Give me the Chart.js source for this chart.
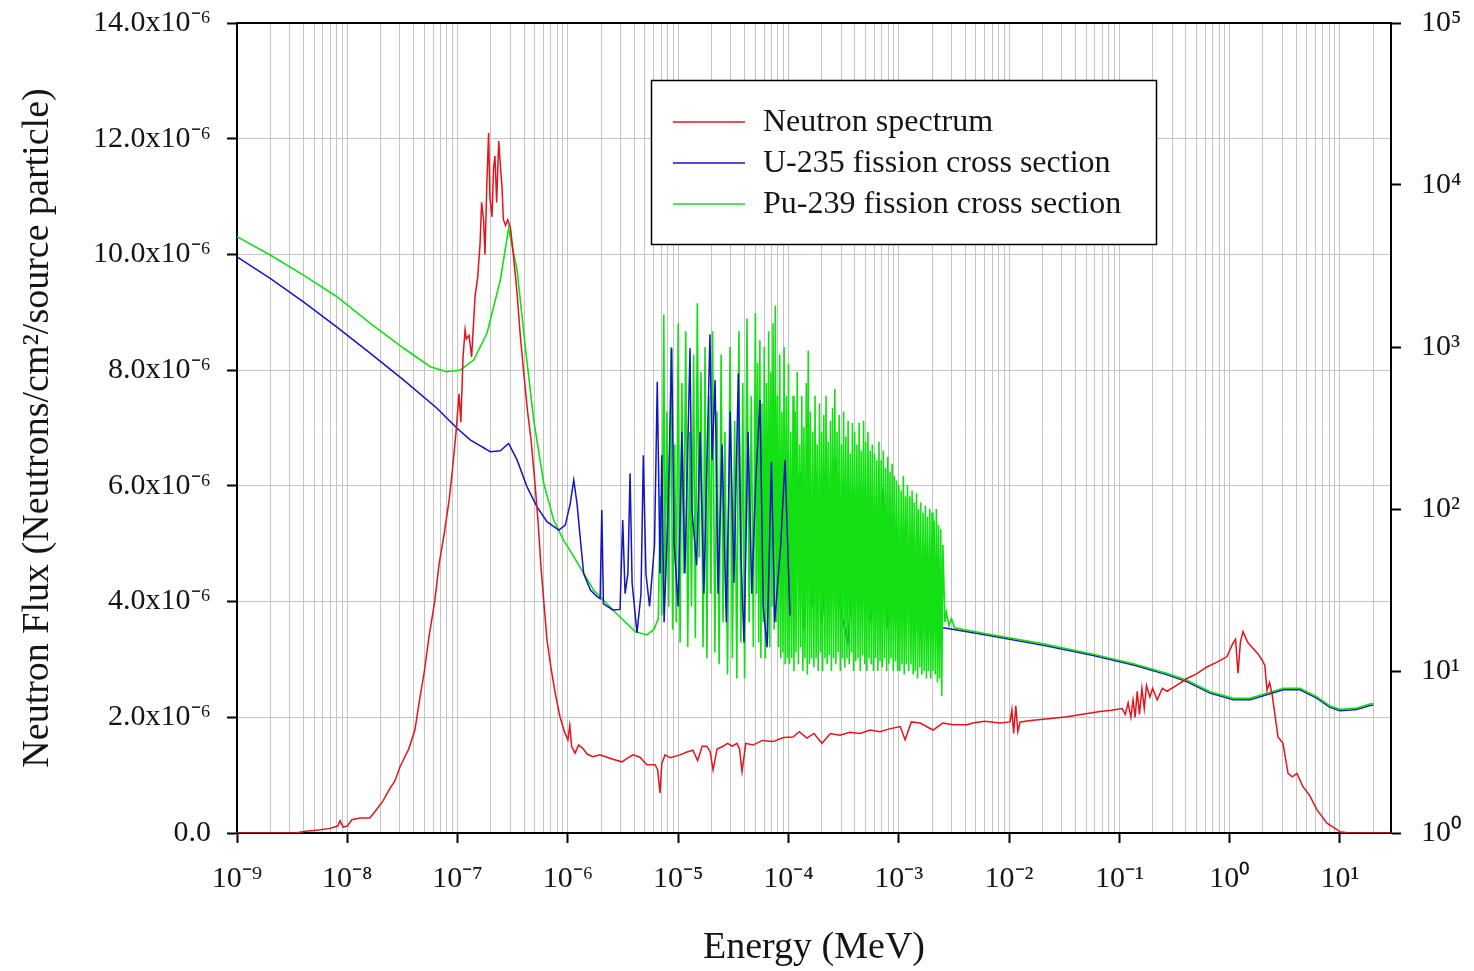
<!DOCTYPE html>
<html>
<head>
<meta charset="utf-8">
<title>Neutron spectrum and fission cross sections</title>
<script src="https://cdn.jsdelivr.net/npm/chart.js@4.4.1/dist/chart.umd.min.js"></script>
<style>
  html, body { margin: 0; padding: 0; background: #fff; }
  #wrap { width: 1474px; height: 971px; }
</style>
</head>
<body>
<div id="wrap"><canvas id="myChart" width="1474" height="971"></canvas></div>
<script>
// axis ticks
const xDecades = [1e-9, 1e-8, 1e-7, 1e-6, 1e-5, 1e-4, 1e-3, 1e-2, 1e-1, 1e0, 1e1];
const xTickLabels = ['10⁻⁹', '10⁻⁸', '10⁻⁷', '10⁻⁶', '10⁻⁵', '10⁻⁴', '10⁻³', '10⁻²', '10⁻¹', '10⁰', '10¹'];
const fluxTicks = [0, 2, 4, 6, 8, 10, 12, 14];
const fluxTickLabels = ['0.0', '2.0x10⁻⁶', '4.0x10⁻⁶', '6.0x10⁻⁶', '8.0x10⁻⁶', '10.0x10⁻⁶', '12.0x10⁻⁶', '14.0x10⁻⁶'];
const sigmaTicks = [1, 10, 100, 1000, 10000, 100000];
const sigmaTickLabels = ['10⁰', '10¹', '10²', '10³', '10⁴', '10⁵'];

// neutron spectrum (energy in MeV, flux in 1e-6 n/cm2/source particle)
const nEnergy = [1e-9, 2e-9, 3.4e-9, 4.2e-9, 5.5e-9, 7e-9, 8.2e-9, 8.6e-9, 9.2e-9, 1.0e-8,
  1.1e-8, 1.3e-8, 1.6e-8, 1.8e-8, 2.1e-8, 2.4e-8, 2.7e-8, 3.0e-8, 3.6e-8, 4.1e-8,
  4.5e-8, 5.0e-8, 5.5e-8, 6.2e-8, 6.8e-8, 7.6e-8, 8.4e-8, 9.0e-8, 9.7e-8, 1.03e-7,
  1.07e-7, 1.12e-7, 1.17e-7, 1.2e-7, 1.27e-7, 1.34e-7, 1.44e-7, 1.52e-7, 1.6e-7, 1.65e-7,
  1.72e-7, 1.77e-7, 1.84e-7, 1.91e-7, 1.96e-7, 2.05e-7, 2.12e-7, 2.18e-7, 2.26e-7, 2.36e-7,
  2.45e-7, 2.53e-7, 2.6e-7, 2.72e-7, 2.85e-7, 3.02e-7, 3.2e-7, 3.46e-7, 3.7e-7, 4.0e-7,
  4.3e-7, 4.63e-7, 5.0e-7, 5.36e-7, 5.7e-7, 6.07e-7, 6.46e-7, 7.03e-7, 7.7e-7, 8.48e-7,
  9.3e-7, 1.0e-6, 1.04e-6, 1.08e-6, 1.16e-6, 1.25e-6, 1.37e-6, 1.5e-6, 1.69e-6, 1.95e-6,
  2.26e-6, 2.6e-6, 3.09e-6, 3.5e-6, 3.89e-6, 4.5e-6, 5.2e-6, 6.16e-6, 6.5e-6, 6.84e-6,
  7.1e-6, 7.6e-6, 8.5e-6, 1.04e-5, 1.2e-5, 1.36e-5, 1.5e-5, 1.65e-5, 1.82e-5, 1.95e-5,
  2.07e-5, 2.25e-5, 2.5e-5, 2.8e-5, 3.1e-5, 3.41e-5, 3.6e-5, 3.79e-5, 4.1e-5, 4.77e-5,
  5.8e-5, 7.24e-5, 9.0e-5, 1.1e-4, 1.25e-4, 1.47e-4, 1.7e-4, 2.01e-4, 2.4e-4, 2.93e-4,
  3.6e-4, 4.45e-4, 5.5e-4, 6.76e-4, 8.2e-4, 1.03e-3, 1.14e-3, 1.3e-3, 1.56e-3, 2.04e-3,
  2.5e-3, 3.1e-3, 4.15e-3, 4.7e-3, 6.0e-3, 8.27e-3,
  1.02e-2, 1.06e-2, 1.1e-2, 1.15e-2, 1.2e-2, 1.26e-2, 1.65e-2, 2.4e-2, 3.35e-2, 4.5e-2,
  6.67e-2, 8.5e-2, 1.06e-1, 1.13e-1, 1.2e-1, 1.27e-1, 1.33e-1, 1.39e-1, 1.45e-1, 1.52e-1,
  1.6e-1, 1.68e-1, 1.76e-1, 1.89e-1, 2.0e-1, 2.2e-1, 2.45e-1, 2.7e-1,
  3.3e-1, 4.1e-1, 5.0e-1, 6.22e-1, 7.6e-1, 9.45e-1,
  1.07, 1.13, 1.19, 1.25, 1.32, 1.45, 1.63, 1.8, 1.96, 2.08,
  2.18, 2.3, 2.42, 2.74, 3.04, 3.38, 3.7, 4.07, 4.62, 5.3,
  6.19, 7.62, 9.4, 10, 12, 20, 29];
const nFlux = [0, 0, 0, 0.03, 0.05, 0.08, 0.12, 0.21, 0.1, 0.12,
  0.23, 0.26, 0.26, 0.38, 0.55, 0.75, 0.9, 1.14, 1.45, 1.78,
  2.28, 2.8, 3.39, 4.0, 4.65, 5.2, 5.77, 6.3, 6.95, 7.59,
  7.1, 8.23, 8.7, 8.54, 8.6, 8.23, 9.28, 9.6, 10.2, 10.9,
  10.6, 10.0, 11.2, 12.1, 11.0, 10.65, 11.5, 11.7, 10.9, 11.96,
  11.5, 11.15, 10.6, 10.5, 10.6, 10.45, 10.0, 9.33, 8.6, 7.9,
  7.3, 6.8, 6.1, 5.39, 4.6, 3.96, 3.34, 2.85, 2.4, 2.01,
  1.75, 1.61, 1.86, 1.5, 1.38, 1.52, 1.46, 1.36, 1.32, 1.35,
  1.31, 1.27, 1.23, 1.3, 1.35, 1.31, 1.18, 1.18, 1.1, 0.69,
  1.2, 1.35, 1.3, 1.35, 1.4, 1.43, 1.25, 1.5, 1.5, 1.4,
  1.09, 1.45, 1.49, 1.55, 1.5, 1.55, 1.45, 1.06, 1.55, 1.52,
  1.6, 1.58, 1.65, 1.66, 1.75, 1.64, 1.72, 1.55, 1.72, 1.69,
  1.74, 1.72, 1.78, 1.75, 1.8, 1.84, 1.61, 1.92, 1.9, 1.78,
  1.9, 1.87, 1.87, 1.9, 1.93, 1.9,
  1.92, 2.13, 1.72, 2.2, 1.75, 1.92, 1.95, 1.98, 2.01, 2.05,
  2.1, 2.12, 2.15, 2.05, 2.25, 2.0, 2.3, 2.0, 2.45, 2.05,
  2.5, 2.15, 2.55, 2.35, 2.5, 2.3, 2.5, 2.45,
  2.55, 2.67, 2.75, 2.87, 2.95, 3.05,
  3.28, 3.35, 2.76, 3.3, 3.48, 3.3, 3.19, 3.1, 2.99, 2.9,
  2.47, 2.6, 2.41, 1.66, 1.55, 1.03, 0.97, 1.03, 0.8, 0.65,
  0.4, 0.17, 0.06, 0.02, 0, 0, 0];

// U-235 fission cross section (barns)
const uEnergy = [1e-9, 2e-9, 4e-9, 8e-9, 1.62e-8, 3.25e-8, 6.5e-8, 9.9e-8, 1.3e-7, 1.98e-7,
  2.44e-7, 2.9e-7, 3.46e-7, 4.26e-7, 5.25e-7, 6.46e-7, 8.26e-7, 9.47e-7, 1.05e-6, 1.13e-6,
  1.21e-6, 1.3e-6, 1.39e-6, 1.6e-6, 1.84e-6, 1.96e-6, 2.03e-6, 2.1e-6, 2.56e-6, 2.97e-6,
  3.14e-6, 3.3e-6, 3.5e-6, 3.66e-6, 3.82e-6, 4.23e-6, 4.6e-6, 4.83e-6, 5.1e-6, 5.5e-6,
  6.1e-6, 6.46e-6, 6.85e-6, 7.1e-6, 7.45e-6, 8.1e-6, 8.73e-6, 9.2e-6, 1.0e-5, 1.08e-5,
  1.15e-5, 1.28e-5, 1.33e-5, 1.47e-5, 1.58e-5, 1.71e-5, 1.94e-5, 2.03e-5, 2.16e-5, 2.3e-5,
  2.5e-5, 2.73e-5, 2.96e-5, 3.2e-5, 3.51e-5, 3.71e-5, 3.95e-5, 4.3e-5, 4.65e-5, 5.05e-5,
  5.52e-5, 5.9e-5, 6.4e-5, 7.0e-5, 7.5e-5, 8.5e-5, 9.3e-5, 1.03e-4, 1.15e-4, 1.27e-4,
  1.38e-4, 1.57e-4, 1.67e-4, 1.8e-4, 2.01e-4, 2.28e-4, 2.63e-4, 2.93e-4, 3.45e-4, 3.99e-4,
  4.74e-4, 5.47e-4, 6.2e-4, 7.23e-4, 8.0e-4, 8.6e-4, 9.8e-4, 1.14e-3, 1.32e-3, 1.56e-3,
  1.73e-3, 1.99e-3, 2.18e-3, 2.41e-3, 2.62e-3, 5.84e-3, 2.04e-2, 5.8e-2, 1.34e-1, 2.68e-1,
  4.07e-1, 6.63e-1, 1.08, 1.53, 2.16, 3.06, 4.34, 6.15, 8.11, 10,
  14.2, 18.7, 20];
const uSigma = [3600, 2650, 1900, 1330, 914, 625, 419, 315, 267, 226,
  229, 254, 201, 137, 103, 83.5, 74, 79.6, 108, 151,
  108, 64, 40, 31.6, 28.8, 28, 98.6, 26, 23.8, 24,
  85.5, 30, 40, 166, 35, 17.2, 30, 215, 40, 25,
  60, 611, 40, 215, 20, 100, 982, 60, 25, 300,
  40, 982, 100, 45, 300, 30, 1200, 200, 626, 30,
  250, 20, 400, 35, 687, 50, 15, 300, 30, 150,
  471, 25, 14, 196, 20, 60, 200, 22, 80, 170,
  18, 123, 25, 158, 20, 60, 206, 25, 15, 60,
  85.5, 20, 40, 134, 18, 40, 70, 20, 60, 16,
  45, 40, 20, 18.5, 18.4, 16.8, 14.4, 12.45, 10.9, 9.5,
  8.6, 7.3, 6.65, 6.65, 7.13, 7.66, 7.66, 6.8, 5.96, 5.68,
  5.78, 6.13, 6.17];

// Pu-239 fission cross section (barns)
const pEnergy = [1e-9, 2e-9, 4e-9, 8e-9, 1.62e-8, 3.25e-8, 5.65e-8, 8.0e-8, 1.06e-7, 1.4e-7,
  1.85e-7, 2.44e-7, 2.9e-7, 3.46e-7, 4.11e-7, 4.9e-7, 6.04e-7, 7.43e-7, 9.16e-7, 1.13e-6,
  1.39e-6, 1.71e-6, 2.56e-6, 4.06e-6, 5.2e-6, 6.0e-6, 6.6e-6, 6.9e-6, 7.1e-6, 7.4e-6,
  7.6e-6, 7.9e-6, 8.2e-6, 8.6e-6, 8.9e-6, 9.3e-6, 9.6e-6, 1.0e-5, 1.04e-5, 1.08e-5,
  1.12e-5, 1.17e-5, 1.22e-5, 1.27e-5, 1.32e-5, 1.38e-5, 1.43e-5, 1.49e-5, 1.55e-5, 1.61e-5,
  1.68e-5, 1.75e-5, 1.82e-5, 1.9e-5, 1.98e-5, 2.05e-5, 2.15e-5, 2.25e-5, 2.35e-5, 2.45e-5,
  2.55e-5, 2.65e-5, 2.8e-5, 2.95e-5, 3.1e-5, 3.25e-5, 3.4e-5, 3.55e-5, 3.7e-5, 3.85e-5,
  4.0e-5, 4.2e-5, 4.4e-5, 4.6e-5, 4.8e-5,
  5.01e-5, 5.13e-5, 5.25e-5, 5.37e-5, 5.5e-5, 5.62e-5, 5.75e-5, 5.89e-5, 6.03e-5, 6.17e-5,
  6.31e-5, 6.46e-5, 6.61e-5, 6.76e-5, 6.92e-5, 7.08e-5, 7.24e-5, 7.41e-5, 7.59e-5, 7.76e-5,
  7.94e-5, 8.13e-5, 8.32e-5, 8.51e-5, 8.71e-5, 8.91e-5, 9.12e-5, 9.33e-5, 9.55e-5, 9.77e-5,
  1.00e-4, 1.02e-4, 1.05e-4, 1.07e-4, 1.10e-4, 1.12e-4, 1.15e-4, 1.17e-4, 1.20e-4, 1.23e-4,
  1.26e-4, 1.29e-4, 1.32e-4, 1.35e-4, 1.38e-4, 1.41e-4, 1.45e-4, 1.48e-4, 1.51e-4, 1.55e-4,
  1.58e-4, 1.62e-4, 1.66e-4, 1.70e-4, 1.74e-4, 1.78e-4, 1.82e-4, 1.86e-4, 1.91e-4, 1.95e-4,
  2.00e-4, 2.04e-4, 2.09e-4, 2.14e-4, 2.19e-4, 2.24e-4, 2.29e-4, 2.34e-4, 2.40e-4, 2.45e-4,
  2.51e-4, 2.57e-4, 2.63e-4, 2.69e-4, 2.75e-4, 2.82e-4, 2.88e-4, 2.95e-4, 3.02e-4, 3.09e-4,
  3.16e-4, 3.24e-4, 3.31e-4, 3.39e-4, 3.47e-4, 3.55e-4, 3.63e-4, 3.72e-4, 3.80e-4, 3.89e-4,
  3.98e-4, 4.07e-4, 4.17e-4, 4.27e-4, 4.37e-4, 4.47e-4, 4.57e-4, 4.68e-4, 4.79e-4, 4.90e-4,
  5.01e-4, 5.13e-4, 5.25e-4, 5.37e-4, 5.50e-4, 5.62e-4, 5.75e-4, 5.89e-4, 6.03e-4, 6.17e-4,
  6.31e-4, 6.46e-4, 6.61e-4, 6.76e-4, 6.92e-4, 7.08e-4, 7.24e-4, 7.41e-4, 7.59e-4, 7.76e-4,
  7.94e-4, 8.13e-4, 8.32e-4, 8.51e-4, 8.71e-4, 8.91e-4, 9.12e-4, 9.33e-4, 9.55e-4, 9.77e-4,
  1.00e-3, 1.02e-3, 1.05e-3, 1.07e-3, 1.10e-3, 1.12e-3, 1.15e-3, 1.17e-3, 1.20e-3, 1.23e-3,
  1.26e-3, 1.29e-3, 1.32e-3, 1.35e-3, 1.38e-3, 1.41e-3, 1.45e-3, 1.48e-3, 1.51e-3, 1.55e-3,
  1.58e-3, 1.62e-3, 1.66e-3, 1.70e-3, 1.74e-3, 1.78e-3, 1.82e-3, 1.86e-3, 1.91e-3, 1.95e-3,
  2.00e-3, 2.04e-3, 2.09e-3, 2.14e-3, 2.19e-3, 2.24e-3, 2.29e-3, 2.34e-3, 2.40e-3, 2.45e-3,
  2.51e-3, 2.62e-3, 2.7e-3, 2.85e-3, 3.0e-3, 3.2e-3,
  5.84e-3, 2.04e-2, 5.8e-2, 1.34e-1, 2.68e-1, 4.07e-1, 6.63e-1, 1.08, 1.53, 2.16,
  3.06, 4.34, 6.15, 8.11, 10, 14.2, 18.7, 20];
const pSigma = [4800, 3700, 2780, 2050, 1400, 982, 755, 704, 721, 831,
  1220, 2590, 5400, 2990, 1000, 354, 144, 85.5, 64, 50.8,
  40, 31.6, 23.8, 17.5, 16.7, 18, 21, 120, 22, 1580,
  30, 400, 25, 1000, 18, 250, 20, 1400, 15, 600,
  40, 1250, 14, 300, 25, 900, 16, 1860, 50, 700,
  14, 1000, 12, 500, 30, 1250, 13, 400, 11, 900,
  20, 300, 9.5, 1000, 12, 350, 9, 1250, 15, 600,
  9, 1500, 20, 500, 14,
  1620, 30, 800, 15, 1100, 12, 450, 20, 1000, 12,
  600, 16, 1250, 14, 700, 25, 1400, 18, 1800, 20,
  500, 14, 900, 12, 400, 13, 1000, 11, 500, 12,
  790, 11, 300, 12, 500, 10, 400, 13, 700, 11,
  250, 14, 500, 10, 320, 12, 600, 9.5, 950, 11,
  400, 12, 300, 10.5, 500, 12, 250, 10, 450, 13,
  300, 10, 380, 12, 500, 11, 260, 12.5, 350, 10,
  420, 12, 550, 11, 300, 13, 380, 10, 250, 12,
  400, 10.5, 280, 12, 350, 11, 220, 13, 340, 10,
  300, 11.5, 250, 12, 340, 10, 230, 12.5, 350, 11,
  260, 10, 300, 12, 230, 11, 250, 10, 220, 12,
  200, 10, 260, 11.5, 200, 10.5, 230, 12, 180, 10,
  210, 11, 170, 12, 190, 10, 160, 11.5, 150, 10,
  140, 10, 130, 11, 160, 9.5, 120, 11, 140, 10,
  120, 11, 130, 9.5, 110, 10, 125, 9, 100, 10.5,
  110, 9.5, 95, 10, 105, 9, 90, 10, 100, 9,
  95, 10, 85, 9.5, 100, 8.5, 80, 9, 75, 7,
  60, 20, 23, 19, 21, 18.5,
  17.1, 14.7, 12.7, 11.1, 9.7, 8.8, 7.45, 6.78, 6.78, 7.28,
  7.82, 7.82, 6.94, 6.08, 5.8, 5.9, 6.26, 6.3];

// U-235 resolved resonances show in front of Pu-239 up to here, behind it above
const uFrontLimit = 1.03e-4;

const serif = '"Liberation Serif", "Times New Roman", serif';
const textColor = '#151515';
const gridColor = '#c4c4c4';
const red = '#e3141c';
const blue = '#1414c4';
const green = '#12e012';

// minor log grid: 1..9 times each decade
const xGridValues = [];
xDecades.forEach(d => {
  for (let m = 1; m <= 9; m++) {
    if (d * m <= 29) xGridValues.push(d * m);
  }
});

function decadeIndex(v) {
  return xDecades.findIndex(d => Math.abs(v - d) / d < 1e-6);
}

function toPoints(xs, ys) {
  return xs.map((x, i) => ({ x: x, y: ys[i] }));
}

// keep the plot frame where the picture has it
function noEdgePadding(axis) {
  axis.paddingTop = 0;
  axis.paddingBottom = 0;
  axis.paddingLeft = 0;
  axis.paddingRight = 0;
}

const uPoints = toPoints(uEnergy, uSigma);

const boxLegend = {
  id: 'boxLegend',
  afterDraw(chart) {
    const ctx = chart.ctx;
    const area = chart.chartArea;
    ctx.save();
    // top frame line
    ctx.strokeStyle = '#000';
    ctx.lineWidth = 2;
    ctx.beginPath();
    ctx.moveTo(area.left, area.top);
    ctx.lineTo(area.right, area.top);
    ctx.stroke();
    // legend box
    ctx.fillStyle = '#fff';
    ctx.fillRect(651, 80, 505, 164);
    ctx.lineWidth = 1.5;
    ctx.strokeRect(651.5, 80.5, 505, 164);
    ctx.font = '32px ' + serif;
    ctx.textBaseline = 'middle';
    chart.data.datasets.filter(ds => ds.label).forEach((ds, i) => {
      const y = 122 + i * 41;
      ctx.strokeStyle = ds.borderColor;
      ctx.lineWidth = 1.5;
      ctx.beginPath();
      ctx.moveTo(673, y);
      ctx.lineTo(745, y);
      ctx.stroke();
      ctx.fillStyle = textColor;
      ctx.fillText(ds.label, 763, y + 1);
    });
    ctx.restore();
  }
};

const ctx = document.getElementById('myChart');

new Chart(ctx, {
  type: 'line',
  data: {
    datasets: [
      {
        label: 'Neutron spectrum',
        data: toPoints(nEnergy, nFlux),
        borderColor: red,
        yAxisID: 'y',
        order: 0
      },
      {
        label: 'U-235 fission cross section',
        data: uPoints.filter(p => p.x <= uFrontLimit),
        borderColor: blue,
        yAxisID: 'y2',
        order: 1
      },
      {
        label: 'Pu-239 fission cross section',
        data: toPoints(pEnergy, pSigma),
        borderColor: green,
        borderWidth: 1.6,
        yAxisID: 'y2',
        order: 2
      },
      {
        label: '',
        data: uPoints.filter(p => p.x >= uFrontLimit),
        borderColor: blue,
        yAxisID: 'y2',
        order: 3
      }
    ]
  },
  options: {
    responsive: false,
    devicePixelRatio: 1,
    animation: false,
    layout: { padding: { top: 23, left: 0, right: 0, bottom: 0 } },
    elements: {
      point: { radius: 0 },
      line: { borderWidth: 1.5, tension: 0 }
    },
    plugins: {
      legend: { display: false },
      tooltip: { enabled: false }
    },
    scales: {
      x: {
        type: 'logarithmic',
        position: 'bottom',
        min: 1e-9,
        max: 29,
        afterBuildTicks: (axis) => { axis.ticks = xGridValues.map(v => ({ value: v })); },
        afterFit: (axis) => { axis.height = 138; noEdgePadding(axis); },
        ticks: {
          autoSkip: false,
          maxRotation: 0,
          padding: 18,
          color: textColor,
          font: { family: serif, size: 30 },
          callback: (v) => decadeIndex(v) >= 0 ? xTickLabels[decadeIndex(v)] : ''
        },
        grid: {
          color: gridColor,
          lineWidth: 1,
          tickLength: 10,
          tickWidth: 2,
          tickColor: (c) => (c.tick && decadeIndex(c.tick.value) >= 0) ? '#000' : 'rgba(0,0,0,0)'
        },
        border: { color: '#000', width: 2 },
        title: {
          display: true,
          text: 'Energy (MeV)',
          color: textColor,
          font: { family: serif, size: 38 },
          padding: { top: 0, bottom: 0 }
        }
      },
      y: {
        type: 'linear',
        position: 'left',
        min: 0,
        max: 14,
        afterBuildTicks: (axis) => { axis.ticks = fluxTicks.map(v => ({ value: v })); },
        afterFit: (axis) => { axis.width = 237; noEdgePadding(axis); },
        ticks: {
          autoSkip: false,
          padding: 16,
          color: textColor,
          font: { family: serif, size: 30 },
          callback: (v) => fluxTickLabels[fluxTicks.indexOf(v)]
        },
        grid: {
          color: gridColor,
          lineWidth: 1,
          tickLength: 10,
          tickWidth: 2,
          tickColor: '#000'
        },
        border: { color: '#000', width: 2 },
        title: {
          display: true,
          text: 'Neutron Flux (Neutrons/cm²/source particle)',
          color: textColor,
          font: { family: serif, size: 38 },
          padding: { top: 15, bottom: 0 }
        }
      },
      y2: {
        type: 'logarithmic',
        position: 'right',
        min: 1,
        max: 100000,
        afterBuildTicks: (axis) => { axis.ticks = sigmaTicks.map(v => ({ value: v })); },
        afterFit: (axis) => { axis.width = 83; noEdgePadding(axis); },
        ticks: {
          autoSkip: false,
          padding: 20,
          color: textColor,
          font: { family: serif, size: 30 },
          callback: (v) => sigmaTickLabels[sigmaTicks.indexOf(v)]
        },
        grid: {
          drawOnChartArea: false,
          tickLength: 10,
          tickWidth: 2,
          tickColor: '#000'
        },
        border: { color: '#000', width: 2 }
      }
    }
  },
  plugins: [boxLegend]
});
</script>
</body>
</html>
